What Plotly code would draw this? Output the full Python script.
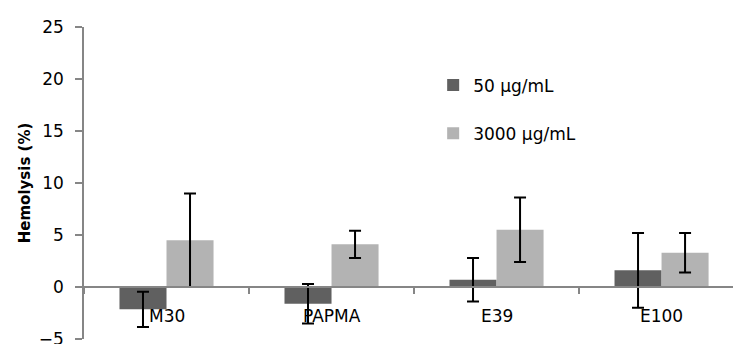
import plotly.graph_objects as go

# Hemolysis (%) per formulation at two concentrations
categories = ["M30", "PAPMA", "E39", "E100"]
series_names = ["50 µg/mL", "3000 µg/mL"]
low_dose = [-2.15, -1.6, 0.7, 1.6]
low_dose_err = [1.7, 1.9, 2.1, 3.6]
high_dose = [4.5, 4.1, 5.5, 3.3]
high_dose_err = [4.5, 1.3, 3.1, 1.9]

y_ticks = [-5, 0, 5, 10, 15, 20, 25]

FONT = "DejaVu Sans"
AXIS_GREY = "#868686"

x_pos = list(range(len(categories)))
x_range = [-0.5, 3.433]

fig = go.Figure()
fig.add_trace(go.Bar(
    x=x_pos, y=low_dose, name=series_names[0], legendgroup="a",
    marker=dict(color="#606060", line=dict(width=0)),
    error_y=dict(type="data", array=low_dose_err, color="black", thickness=2, width=6),
))
fig.add_trace(go.Bar(
    x=x_pos, y=high_dose, name=series_names[1], legendgroup="b",
    marker=dict(color="#b3b3b3", line=dict(width=0)),
    error_y=dict(type="data", array=high_dose_err, color="black", thickness=2, width=6),
))

y_min, y_max = y_ticks[0], y_ticks[-1]
zero_pos = (0 - y_min) / (y_max - y_min)

# category names sit just under the zero line
category_labels = [
    dict(text=name, x=i, y=0, xref="x", yref="y",
         xanchor="center", yanchor="top", yshift=-17, showarrow=False,
         font=dict(family=FONT, size=17, color="black"))
    for i, name in zip(x_pos, categories)
]

fig.update_layout(
    width=733, height=344,
    margin=dict(l=84, r=0, t=27, b=5, autoexpand=False),
    paper_bgcolor="white", plot_bgcolor="white",
    barmode="group", bargap=0.43, bargroupgap=0,
    font=dict(family=FONT, color="black"),
    showlegend=True,
    legend=dict(
        x=0.538, y=0.87, xanchor="left", yanchor="top",
        font=dict(family=FONT, size=17, color="black"),
        tracegroupgap=23, bgcolor="rgba(0,0,0,0)",
    ),
    annotations=category_labels,
    # x axis drawn along y = 0, with tick marks on the category boundaries
    xaxis=dict(
        range=x_range,
        tickmode="linear", tick0=-0.5, dtick=1,
        ticks="outside", ticklen=6, tickcolor=AXIS_GREY, tickwidth=1.5,
        showticklabels=False,
        showgrid=False, zeroline=False,
        showline=True, linecolor=AXIS_GREY, linewidth=1.5,
        anchor="free", position=zero_pos,
    ),
    yaxis=dict(
        range=[y_min, y_max],
        tickmode="array", tickvals=y_ticks,
        ticks="outside", ticklen=7, tickcolor=AXIS_GREY, tickwidth=1.5,
        ticklabelstandoff=8, ticklabeloverflow="allow",
        tickfont=dict(family=FONT, size=17, color="black"),
        showgrid=False, zeroline=False,
        showline=True, linecolor=AXIS_GREY, linewidth=1.5,
        title=dict(text="Hemolysis (%)", standoff=5,
                   font=dict(family=FONT, size=15, color="black", weight="bold")),
    ),
)

fig.write_html("out.html")
